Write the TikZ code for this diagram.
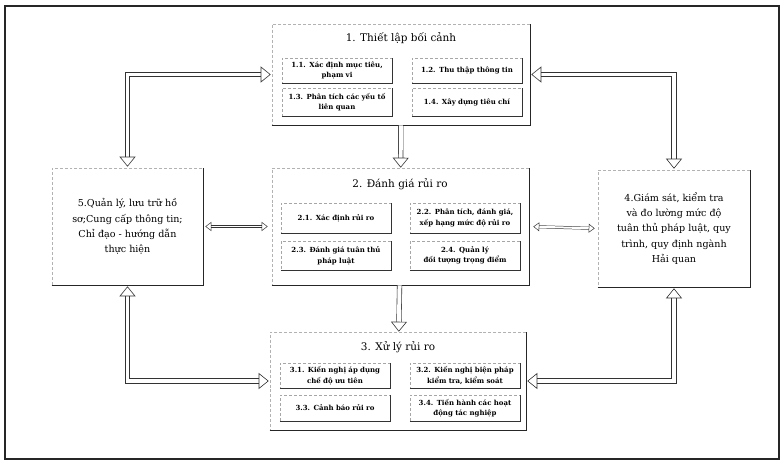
\documentclass[tikz,border=0pt]{standalone}
\usepackage{fontspec}
\setmainfont{DejaVu Serif}
\usetikzlibrary{arrows.meta}

\tikzset{
  box/.style={draw=gray!60, densely dashed, line width=0.6pt, inner sep=0pt, align=center,
    font=\fontsize{9.6}{15.3}\selectfont},
  subbox/.style={draw=gray!70, densely dashed, line width=0.5pt, inner sep=0pt,
    minimum width=110bp, text width=110bp, align=center,
    font=\bfseries\fontsize{7}{10.5}\selectfont},
  boxtitle/.style={font=\fontsize{10.5}{13}\selectfont},
  bigarrow/.style={draw=gray!40!black, line width=0.6pt, double=white, double distance=4pt,
    {Triangle[open, length=10pt, width=16pt]}-{Triangle[open, length=10pt, width=16pt]}},
  downarrow/.style={draw=gray!40!black, line width=0.6pt, double=white, double distance=4pt,
    -{Triangle[open, length=10pt, width=16pt]}},
  smallarrow/.style={draw=gray!40!black, line width=0.5pt, double=white, double distance=2pt,
    {Triangle[open, length=6pt, width=9pt]}-{Triangle[open, length=6pt, width=9pt]}}
}

\begin{document}
\begin{tikzpicture}[x=1bp, y=-1bp]
    \useasboundingbox (0,0) rectangle (784,462);

    % outer frame
    \draw[line width=1.2pt, gray!30!black] (5,6) rectangle (779,459);

    % main boxes
    \node[box, minimum width=258bp, minimum height=101bp] (b1) at (401,74.5) {};
    \node[box, minimum width=257bp, minimum height=117bp] (b2) at (400.5,226.5) {};
    \node[box, minimum width=256bp, minimum height=98bp] (b3) at (398,381) {};
    \node[box, minimum width=151bp, minimum height=117bp] (b5) at (127.5,226.5)
      {5.Quản lý, lưu trữ hồ\\ sơ;Cung cấp thông tin;\\ Chỉ đạo - hướng dẫn\\ thực hiện};
    \node[box, minimum width=152bp, minimum height=117bp] (b4) at (674,228.5)
      {4.Giám sát, kiểm tra\\ và đo lường mức độ\\ tuân thủ pháp luật, quy\\ trình, quy định ngành\\ Hải quan};

    % titles
    \node[boxtitle] (t1) at (401,38) {1. Thiết lập bối cảnh};
    \node[boxtitle] (t2) at (400,184) {2. Đánh giá rủi ro};
    \node[boxtitle] (t3) at (398,347) {3. Xử lý rủi ro};

    % sub-steps of 1
    \node[subbox, minimum height=25bp] (b11) at (337,70.5) {1.1. Xác định mục tiêu,\\ phạm vi};
    \node[subbox, minimum height=25bp] (b12) at (467,70.5) {1.2. Thu thập thông tin};
    \node[subbox, minimum height=28bp] (b13) at (337,102) {1.3. Phân tích các yếu tố\\ liên quan};
    \node[subbox, minimum height=28bp] (b14) at (467,102) {1.4. Xây dựng tiêu chí};

    % sub-steps of 2
    \node[subbox, minimum height=30bp] (b21) at (336,218) {2.1. Xác định rủi ro};
    \node[subbox, minimum height=30bp] (b22) at (465,218) {2.2. Phân tích, đánh giá,\\ xếp hạng mức độ rủi ro};
    \node[subbox, minimum height=29bp] (b23) at (336,255.5) {2.3. Đánh giá tuân thủ\\ pháp luật};
    \node[subbox, minimum height=29bp] (b24) at (465,255.5) {2.4. Quản lý\\ đối tượng trọng điểm};

    % sub-steps of 3
    \node[subbox, minimum height=25bp] (b31) at (335,375.5) {3.1. Kiến nghị áp dụng\\ chế độ ưu tiên};
    \node[subbox, minimum height=25bp] (b32) at (465,375.5) {3.2. Kiến nghị biện pháp\\ kiểm tra, kiểm soát};
    \node[subbox, minimum height=26bp] (b33) at (335,408) {3.3. Cảnh báo rủi ro};
    \node[subbox, minimum height=26bp] (b34) at (465,408) {3.4. Tiến hành các hoạt\\ động tác nghiệp};

    % shadow edges
    \foreach \n in {b1,b2,b3,b4,b5}
      \draw[line width=1.3pt, gray!30!black] (\n.south west) -- (\n.south east) -- (\n.north east);
    \foreach \n in {b11,b12,b13,b14,b21,b22,b23,b24,b31,b32,b33,b34}
      \draw[line width=0.8pt, gray!40!black] (\n.south west) -- (\n.south east) -- (\n.north east);

    % connectors
    \draw[downarrow] (b1) -- (b2);
    \draw[downarrow] (b2) -- (b3);
    \draw[bigarrow, shorten <=1pt, shorten >=1pt] (b5.north) |- (b1.west);
    \draw[bigarrow, shorten <=1pt, shorten >=1pt] (b4.north) |- (b1.east);
    \draw[bigarrow, shorten <=1pt, shorten >=1pt] (b5.south) |- (b3.west);
    \draw[bigarrow, shorten <=1pt, shorten >=1pt] (b4.south) |- (b3.east);
    \draw[smallarrow, shorten <=2pt, shorten >=4pt] (b5.east) -- (b2.west);
    \draw[smallarrow, shorten <=4pt, shorten >=3pt] (b2.east) -- (b4.west);
\end{tikzpicture}
\end{document}
